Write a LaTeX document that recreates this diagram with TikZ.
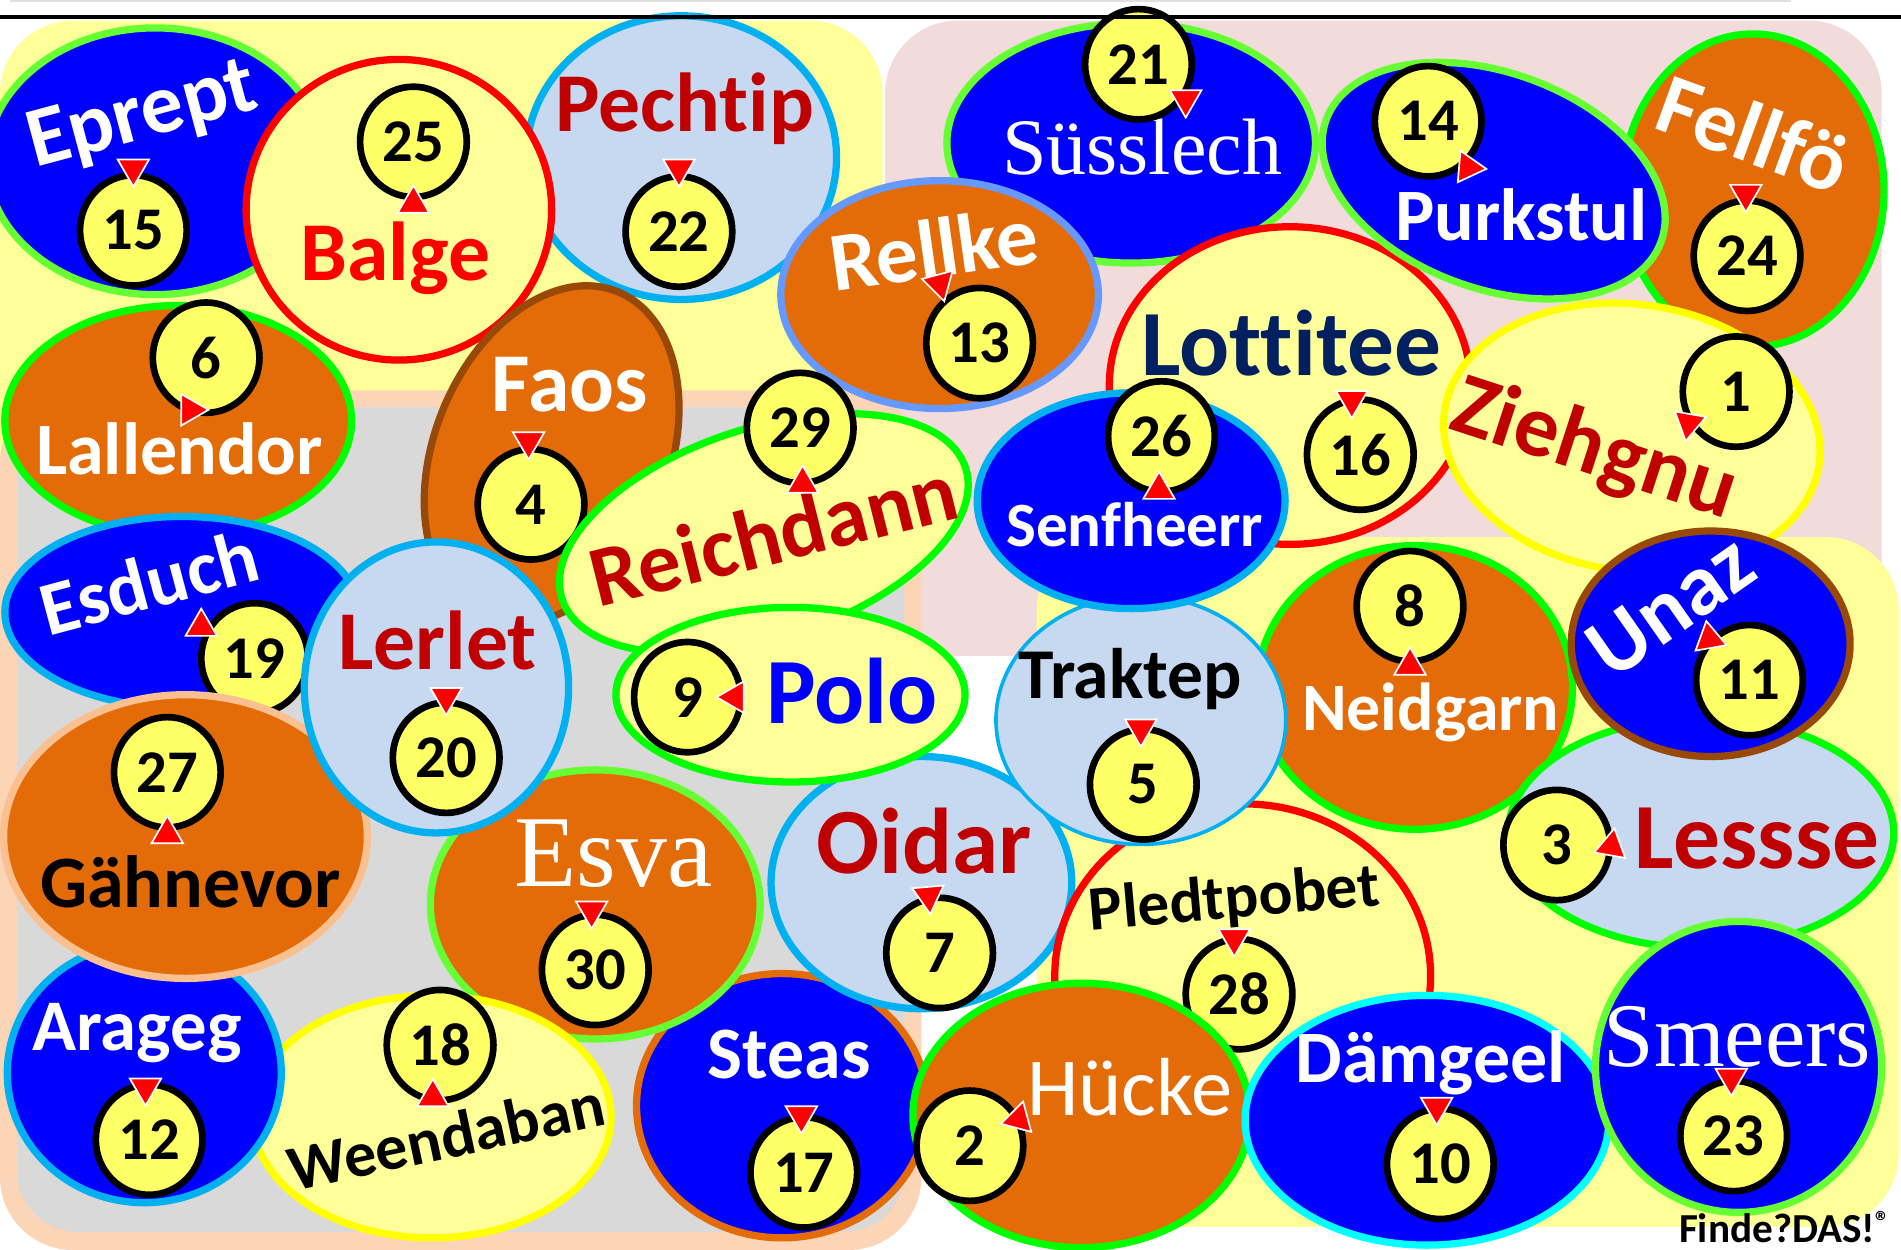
\documentclass[tikz,border=0pt]{standalone}
\usepackage{fontspec}
\setmainfont{Carlito}[Ligatures=NoCommon]
\newfontfamily\timesf{Liberation Serif}
\usetikzlibrary{shapes.geometric}
\definecolor{blau}{HTML}{0000FF}
\definecolor{orng}{HTML}{E36C09}
\definecolor{hgelb}{HTML}{FFFF99}
\definecolor{hblau}{HTML}{C6D9F1}
\definecolor{gruen}{HTML}{00FF00}
\definecolor{hgruen}{HTML}{66FF33}
\definecolor{cyanb}{HTML}{00B0F0}
\definecolor{tuerkis}{HTML}{00FFFF}
\definecolor{rot}{HTML}{FF0000}
\definecolor{drot}{HTML}{C00000}
\definecolor{navy}{HTML}{002060}
\definecolor{braun}{HTML}{984807}
\definecolor{kblau}{HTML}{6699FF}
\definecolor{pfirsich}{HTML}{FAC090}
\definecolor{gelb}{HTML}{FFFF00}
\definecolor{ngelb}{HTML}{FFFF66}
\definecolor{bgelb}{HTML}{FFFF99}
\definecolor{brosa}{HTML}{F2DCDB}
\definecolor{bpfir}{HTML}{FBD5B5}
\definecolor{bgrau}{HTML}{D9D9D9}
\newcommand\fsz[1]{\fontsize{#1}{#1}\selectfont}
\tikzset{
  bub/.style={ellipse,line width=6pt,inner sep=0pt},
  lbl/.style={inner sep=0pt},
  num/.style={ellipse,fill=ngelb,draw=black,line width=5.5pt,minimum width=88pt,minimum height=91pt,inner sep=0pt,font=\bfseries\fsz{50}},
  tri/.style={regular polygon,regular polygon sides=3,fill=rot,draw=white,line width=1.4pt,minimum size=30pt,inner sep=0pt},
  feld/.style={rounded corners=60pt},
}

\begin{document}
\begin{tikzpicture}[x=1pt,y=-1pt]
  \useasboundingbox (0,0) rectangle (1568,1031);
  % Hintergrund
  \fill[bgelb,feld] (0,17) rectangle (728,440);
  \fill[brosa,feld] (730,17) rectangle (1552,541);
  \fill[bpfir,feld] (0,322) rectangle (760,1031);
  \fill[bgrau,rounded corners=50pt] (14,336) rectangle (746,1016);
  \fill[bgelb,feld] (855,443) rectangle (1566,1012);

  \node[bub,fill=blau,draw=hgruen,minimum width=278pt,minimum height=220pt] (eprept) at (128,133) {};
  \node[lbl,white,rotate=15,font=\bfseries\fsz{70}] (epreptT) at (118,97) {Eprept};
  \node[num] (n15) at (110,190) {15};
  \node[tri,rotate=180] (t15) at (110,139) {};

  \node[bub,fill=hblau,draw=cyanb,minimum width=256pt,minimum height=234pt] (pechtip) at (562,130) {};
  \node[lbl,drot,font=\bfseries\fsz{69}] (pechtipT) at (565,90) {Pechtip};
  \node[num] (n22) at (560,191) {22};
  \node[tri,rotate=180] (t22) at (560,139) {};

  \node[bub,fill=hgelb,draw=rot,minimum width=252pt,minimum height=248pt] (balge) at (329,173) {};
  \node[lbl,rot,font=\bfseries\fsz{69}] (balgeT) at (326,213) {Balge};
  \node[num] (n25) at (341,117) {25};
  \node[tri] (t25) at (341,168) {};

  \node[bub,fill=orng,draw=gruen,minimum width=286pt,minimum height=190pt] (lallendor) at (147,347) {};
  \node[lbl,white,font=\bfseries\fsz{61}] (lallendorT) at (148,370) {Lallendor};
  \node[num] (n6) at (170,295) {6};
  \node[tri,rotate=30] (t6) at (157,338) {};

  \node[bub,fill=blau,draw=hgruen,minimum width=304pt,minimum height=198pt] (suesslech) at (933,118) {};
  \node[lbl,white,font=\timesf\fsz{66}] (suesslechT) at (942,121) {Süsslech};
  \node[num] (n21) at (939,53) {21};
  \node[tri,rotate=180] (t21) at (978,82) {};

  \node[bub,fill=orng,draw=kblau,minimum width=262pt,minimum height=188pt] (rellke) at (775,243) {};
  \node[lbl,white,rotate=8,font=\bfseries\fsz{69}] (rellkeT) at (770,205) {Rellke};
  \node[num] (n13) at (808,283) {13};
  \node[tri,rotate=75] (t13) at (775,234) {};

  \node[bub,fill=orng,draw=braun,minimum width=194pt,minimum height=290pt,rotate=-22] (faos) at (455,375) {};
  \node[lbl,white,font=\bfseries\fsz{69}] (faosT) at (470,317) {Faos};
  \node[num] (n4) at (438,416) {4};
  \node[tri,rotate=180] (t4) at (436,364) {};

  \node[bub,fill=hgelb,draw=rot,minimum width=298pt,minimum height=262pt] (lottitee) at (1064,318) {};
  \node[lbl,navy,font=\bfseries\fsz{77}] (lottiteeT) at (1065,283) {Lottitee};
  \node[num] (n16) at (1122,375) {16};
  \node[tri,rotate=180] (t16) at (1115,330) {};

  \node[bub,fill=orng,draw=gruen,minimum width=216pt,minimum height=258pt] (fellfoe) at (1446,157) {};
  \node[lbl,white,rotate=-20,font=\bfseries\fsz{71}] (fellfoeT) at (1447,110) {Fellfö};
  \node[num] (n24) at (1441,211) {24};
  \node[tri,rotate=180] (t24) at (1440,160) {};

  \node[bub,fill=blau,draw=hgruen,minimum width=294pt,minimum height=178pt,rotate=-20] (purkstul) at (1232,149) {};
  \node[lbl,white,font=\bfseries\fsz{61}] (purkstulT) at (1255,177) {Purkstul};
  \node[num] (n14) at (1178,100) {14};
  \node[tri,rotate=-95] (t14) at (1211,138) {};

  \node[bub,fill=hgelb,draw=gelb,minimum width=312pt,minimum height=220pt,rotate=-8] (ziehgnu) at (1346,361) {};
  \node[lbl,drot,rotate=-18,font=\bfseries\fsz{73}] (ziehgnuT) at (1315,372) {Ziehgnu};
  \node[num] (n1) at (1432,323) {1};
  \node[tri,rotate=170] (t1) at (1393,349) {};

  \node[bub,fill=blau,draw=cyanb,minimum width=292pt,minimum height=158pt] (esduch) at (150,505) {};
  \node[lbl,white,rotate=15,font=\bfseries\fsz{63}] (esduchT) at (123,480) {Esduch};
  \node[num] (n19) at (210,543) {19};
  \node[tri] (t19) at (166,517) {};

  \node[bub,fill=blau,draw=orng,minimum width=240pt,minimum height=218pt] (steas) at (645,912) {};
  \node[lbl,white,font=\bfseries\fsz{61}] (steasT) at (651,870) {Steas};
  \node[num] (n17) at (663,967) {17};
  \node[tri,rotate=180] (t17) at (661,920) {};

  \node[bub,fill=orng,draw=hgruen,minimum width=272pt,minimum height=222pt] (esva) at (491,746) {};
  \node[lbl,white,font=\timesf\fsz{84}] (esvaT) at (506,704) {Esva};
  \node[num] (n30) at (491,800) {30};
  \node[tri,rotate=180] (t30) at (488,751) {};

  \node[bub,fill=hgelb,draw=gelb,minimum width=296pt,minimum height=200pt] (weendaban) at (356,921) {};
  \node[lbl,black,rotate=12,font=\bfseries\fsz{53}] (weendabanT) at (368,937) {Weendaban};
  \node[num] (n18) at (363,862) {18};
  \node[tri] (t18) at (357,905) {};

  \node[bub,fill=blau,draw=cyanb,minimum width=226pt,minimum height=214pt] (arageg) at (119,885) {};
  \node[lbl,white,font=\bfseries\fsz{60}] (aragegT) at (113,852) {Arageg};
  \node[num] (n12) at (123,940) {12};
  \node[tri,rotate=180] (t12) at (120,897) {};

  \node[bub,fill=orng,draw=pfirsich,minimum width=300pt,minimum height=234pt] (gaehnevor) at (153,690) {};
  \node[lbl,black,font=\bfseries\fsz{61}] (gaehnevorT) at (157,727) {Gähnevor};
  \node[num] (n27) at (138,637) {27};
  \node[tri] (t27) at (138,688) {};

  \node[bub,fill=hblau,draw=cyanb,minimum width=218pt,minimum height=240pt] (lerlet) at (360,567) {};
  \node[lbl,drot,font=\bfseries\fsz{69}] (lerletT) at (361,528) {Lerlet};
  \node[num] (n20) at (368,625) {20};
  \node[tri,rotate=180] (t20) at (368,575) {};

  \node[bub,fill=hgelb,draw=gruen,minimum width=350pt,minimum height=174pt,rotate=18] (reichdann) at (630,440) {};
  \node[lbl,drot,rotate=14,font=\bfseries\fsz{71}] (reichdannT) at (638,440) {Reichdann};
  \node[num] (n29) at (660,353) {29};
  \node[tri] (t29) at (662,399) {};

  \node[bub,fill=hblau,draw=cyanb,minimum width=248pt,minimum height=208pt] (oidar) at (760,728) {};
  \node[lbl,drot,font=\bfseries\fsz{77}] (oidarT) at (762,694) {Oidar};
  \node[num] (n7) at (775,786) {7};
  \node[tri,rotate=185] (t7) at (766,739) {};

  \node[bub,fill=hgelb,draw=gruen,minimum width=288pt,minimum height=144pt] (polo) at (652,573) {};
  \node[lbl,blau,font=\bfseries\fsz{77}] (poloT) at (703,570) {Polo};
  \node[num] (n9) at (567,575) {9};
  \node[tri,rotate=90] (t9) at (606,575) {};

  \node[bub,fill=hgelb,draw=rot,minimum width=310pt,minimum height=284pt] (pledtpobet) at (1025,805) {};
  \node[lbl,black,rotate=5,font=\bfseries\fsz{52}] (pledtpobetT) at (1018,743) {Pledtpobet};
  \node[num] (n28) at (1022,820) {28};
  \node[tri,rotate=180] (t28) at (1018,774) {};

  \node[bub,fill=orng,draw=gruen,minimum width=260pt,minimum height=234pt] (neidgarn) at (1167,567) {};
  \node[lbl,white,font=\bfseries\fsz{56}] (neidgarnT) at (1180,588) {Neidgarn};
  \node[num] (n8) at (1163,500) {8};
  \node[tri] (t8) at (1163,549) {};

  \node[bub,fill=hblau,draw=cyanb,line width=3pt,minimum width=239pt,minimum height=205pt] (traktep) at (941,594) {};
  \node[lbl,black,font=\bfseries\fsz{59}] (traktepT) at (932,560) {Traktep};
  \node[num] (n5) at (943,647) {5};
  \node[tri,rotate=180] (t5) at (941,601) {};

  \node[bub,fill=blau,draw=cyanb,minimum width=254pt,minimum height=178pt] (senfheerr) at (933,413) {};
  \node[lbl,white,font=\bfseries\fsz{52}] (senfheerrT) at (936,433) {Senfheerr};
  \node[num] (n26) at (958,360) {26};
  \node[tri] (t26) at (956,404) {};

  \node[bub,fill=orng,draw=gruen,minimum width=278pt,minimum height=218pt] (huecke) at (892,920) {};
  \node[lbl,white,font=\fsz{68}] (hueckeT) at (932,897) {Hücke};
  \node[num] (n2) at (800,945) {2};
  \node[tri,rotate=-15] (t2) at (840,923) {};

  \node[bub,fill=hblau,draw=gruen,minimum width=318pt,minimum height=190pt] (lessse) at (1403,687) {};
  \node[lbl,drot,font=\bfseries\fsz{77}] (lessseT) at (1449,692) {Lessse};
  \node[num] (n3) at (1284,697) {3};
  \node[tri,rotate=110] (t3) at (1329,698) {};

  \node[bub,fill=blau,draw=braun,minimum width=230pt,minimum height=186pt] (unaz) at (1411,531) {};
  \node[lbl,white,rotate=35,font=\bfseries\fsz{72}] (unazT) at (1378,500) {Unaz};
  \node[num] (n11) at (1443,561) {11};
  \node[tri,rotate=10] (t11) at (1410,527) {};

  \node[bub,fill=blau,draw=tuerkis,minimum width=300pt,minimum height=206pt] (daemgeel) at (1177,924) {};
  \node[lbl,white,font=\bfseries\fsz{61}] (daemgeelT) at (1180,877) {Dämgeel};
  \node[num] (n10) at (1188,960) {10};
  \node[tri,rotate=180] (t10) at (1185,913) {};

  \node[bub,fill=blau,draw=hgruen,minimum width=236pt,minimum height=240pt] (smeers) at (1434,880) {};
  \node[lbl,white,font=\timesf\fsz{75}] (smeersT) at (1433,855) {Smeers};
  \node[num] (n23) at (1430,937) {23};
  \node[tri,rotate=180] (t23) at (1428,889) {};

  % Linien oben, Logo
  \draw[black!12,line width=2pt] (8,1) -- (1477,1);
  \draw[line width=3.5pt] (0,14) -- (1568,14);
  \node[lbl,font=\bfseries\fsz{34}] (logo) at (1472,1012) {Finde?DAS!\textsuperscript{®}};
\end{tikzpicture}
\end{document}
